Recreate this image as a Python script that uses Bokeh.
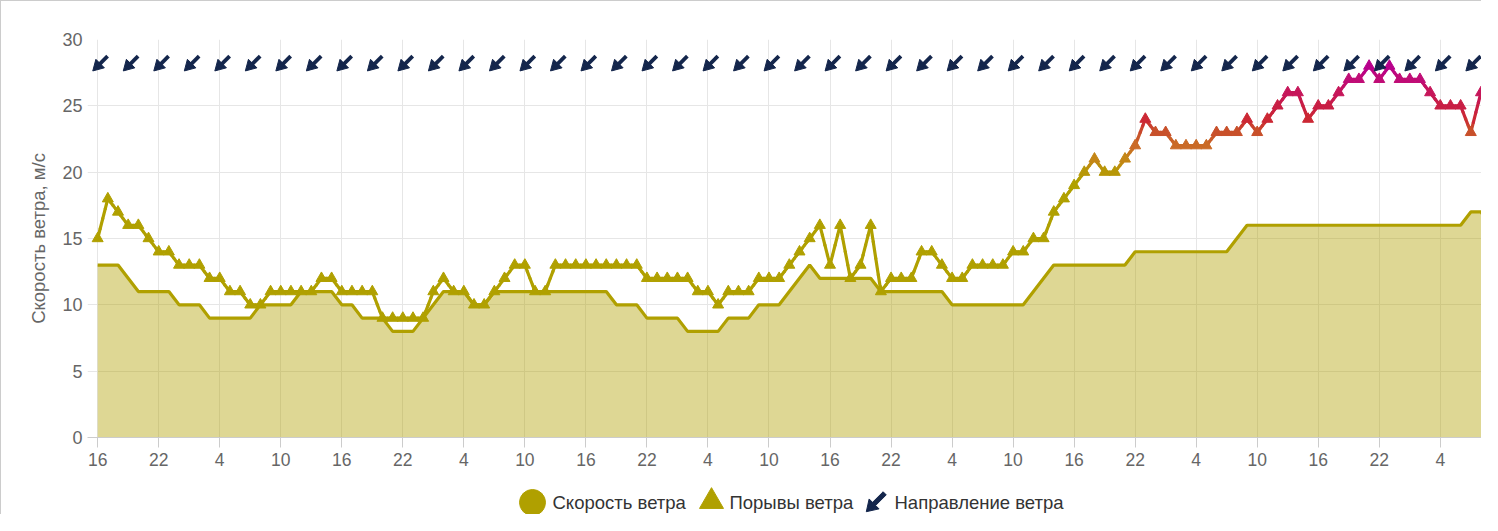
import math
from bokeh.plotting import figure
from bokeh.layouts import column
from bokeh.models import ColumnDataSource, FixedTicker, Range1d
from bokeh.core.properties import value
from bokeh.embed import file_html
from bokeh.resources import INLINE

# ---------------- data (hourly, starting 16:00) ----------------
speed = [13, 13, 13, 12, 11, 11, 11, 11, 10, 10, 10, 9,
         9, 9, 9, 9, 10, 10, 10, 10, 11, 11, 11, 11,
         10, 10, 9, 9, 9, 8, 8, 8, 9, 10, 11, 11,
         11, 10, 10, 11, 11, 11, 11, 11, 11, 11, 11, 11,
         11, 11, 11, 10, 10, 10, 9, 9, 9, 9, 8, 8,
         8, 8, 9, 9, 9, 10, 10, 10, 11, 12, 13, 12,
         12, 12, 12, 12, 12, 11, 11, 11, 11, 11, 11, 11,
         10, 10, 10, 10, 10, 10, 10, 10, 11, 12, 13, 13,
         13, 13, 13, 13, 13, 13, 14, 14, 14, 14, 14, 14,
         14, 14, 14, 14, 15, 16, 16, 16, 16, 16, 16, 16,
         16, 16, 16, 16, 16, 16, 16, 16, 16, 16, 16, 16,
         16, 16, 16, 17, 17, 16]

gust = [15, 18, 17, 16, 16, 15, 14, 14, 13, 13, 13, 12,
        12, 11, 11, 10, 10, 11, 11, 11, 11, 11, 12, 12,
        11, 11, 11, 11, 9, 9, 9, 9, 9, 11, 12, 11,
        11, 10, 10, 11, 12, 13, 13, 11, 11, 13, 13, 13,
        13, 13, 13, 13, 13, 13, 12, 12, 12, 12, 12, 11,
        11, 10, 11, 11, 11, 12, 12, 12, 13, 14, 15, 16,
        13, 16, 12, 13, 16, 11, 12, 12, 12, 14, 14, 13,
        12, 12, 13, 13, 13, 13, 14, 14, 15, 15, 17, 18,
        19, 20, 21, 20, 20, 21, 22, 24, 23, 23, 22, 22,
        22, 22, 23, 23, 23, 24, 23, 24, 25, 26, 26, 24,
        25, 25, 26, 27, 27, 28, 27, 28, 27, 27, 27, 26,
        25, 25, 25, 23, 26, 26]

# wind direction every 3 hours (degrees, direction wind blows FROM)
dir_hours = [0, 3, 6, 9, 12, 15, 18, 21, 24, 27, 30, 33, 36, 39, 42, 45,
             48, 51, 54, 57, 60, 63, 66, 69, 72, 75, 78, 81, 84, 87, 90, 93,
             96, 99, 102, 105, 108, 111, 114, 117, 120, 123, 126, 129, 132, 135]
wind_dir = [45, 45, 45, 45, 45, 45, 45, 45, 45, 45, 45, 45, 45, 45, 45, 45,
            45, 45, 45, 45, 45, 45, 45, 45, 45, 45, 45, 45, 45, 45, 45, 45,
            45, 45, 45, 45, 45, 45, 45, 45, 45, 45, 45, 45, 45, 45]
arrow_level = 28

tick_hours = [0, 6, 12, 18, 24, 30, 36, 42, 48, 54, 60, 66, 72, 78, 84, 90,
              96, 102, 108, 114, 120, 126, 132]
tick_labels = ["16", "22", "4", "10", "16", "22", "4", "10", "16", "22", "4", "10",
               "16", "22", "4", "10", "16", "22", "4", "10", "16", "22", "4"]

labels = {"speed": "Скорость ветра", "gust": "Порывы ветра", "dir": "Направление ветра"}
y_title = "Скорость ветра, м/с"

# ---------------- styles ----------------
OLIVE = "#b0a000"
NAVY = "#14264c"
FONT = "Liberation Sans"
GRID = "#e6e6e6"
BORDER = "1px solid #cccccc"

stops = [(19.5, (176, 160, 0)), (21, (196, 134, 22)), (22, (202, 106, 38)),
         (23, (200, 80, 42)), (24, (204, 40, 52)), (25, (200, 30, 68)),
         (26, (198, 22, 90)), (27, (192, 12, 118)), (28, (184, 0, 140))]


def gust_color(v):
    if v <= stops[0][0]:
        c = stops[0][1]
    elif v >= stops[-1][0]:
        c = stops[-1][1]
    else:
        for (a, ca), (b, cb) in zip(stops[:-1], stops[1:]):
            if a <= v <= b:
                t = (v - a) / (b - a)
                c = tuple(ca[k] + (cb[k] - ca[k]) * t for k in range(3))
                break
    return "#%02x%02x%02x" % tuple(int(round(x)) for x in c)


hours = list(range(len(speed)))

LEFT = 86
W = 1481

p = figure(width=W, height=481, output_backend="svg", toolbar_location=None,
           x_range=Range1d(-1.0, 136.15), y_range=Range1d(0, 30),
           min_border_left=LEFT, min_border_right=0, min_border_top=38,
           min_border_bottom=45)
p.outline_line_color = None
p.background_fill_color = "white"
p.border_fill_color = "white"
p.styles = {"border-top": BORDER, "border-left": BORDER}

# grids
p.xgrid.grid_line_color = GRID
p.ygrid.grid_line_color = GRID
p.xgrid.ticker = FixedTicker(ticks=tick_hours)
p.ygrid.ticker = FixedTicker(ticks=[0, 5, 10, 15, 20, 25, 30])

# axes
p.xaxis.ticker = FixedTicker(ticks=tick_hours)
p.xaxis.major_label_overrides = {h: lab for h, lab in zip(tick_hours, tick_labels)}
p.xaxis.axis_line_color = "#cccccc"
p.xaxis.major_tick_line_color = "#cccccc"
p.xaxis.major_tick_out = 10
p.xaxis.major_tick_in = 0
p.xaxis.minor_tick_line_color = None
p.xaxis.major_label_standoff = 5
p.xaxis.major_label_text_font = FONT
p.xaxis.major_label_text_font_size = "17.5px"
p.xaxis.major_label_text_color = "#666666"

p.yaxis.ticker = FixedTicker(ticks=[0, 5, 10, 15, 20, 25, 30])
p.yaxis.axis_line_color = None
p.yaxis.major_tick_line_color = None
p.yaxis.minor_tick_line_color = None
p.yaxis.major_tick_out = 0
p.yaxis.major_tick_in = 0
p.yaxis.major_label_standoff = 5
p.yaxis.major_label_text_font = FONT
p.yaxis.major_label_text_font_size = "18px"
p.yaxis.major_label_text_color = "#666666"
p.yaxis.axis_label = y_title
p.yaxis.axis_label_text_font = FONT
p.yaxis.axis_label_text_font_size = "18.5px"
p.yaxis.axis_label_text_font_style = "normal"
p.yaxis.axis_label_text_color = "#666666"
p.yaxis.axis_label_standoff = 10

# wind speed area + line
p.varea(x=hours, y1=[0] * len(hours), y2=speed, fill_color=OLIVE, fill_alpha=0.42)
p.line(hours, speed, line_color=OLIVE, line_width=3.2)

# gust line, coloured by value
sub = 4
x0, y0, x1, y1, cols = [], [], [], [], []
for i in range(len(gust) - 1):
    for k in range(sub):
        ta, tb = k / sub, (k + 1) / sub
        ya = gust[i] + (gust[i + 1] - gust[i]) * ta
        yb = gust[i] + (gust[i + 1] - gust[i]) * tb
        x0.append(hours[i] + ta)
        x1.append(hours[i] + tb)
        y0.append(ya)
        y1.append(yb)
        cols.append(gust_color((ya + yb) / 2))
seg_src = ColumnDataSource(dict(x0=x0, y0=y0, x1=x1, y1=y1, c=cols))
p.segment(x0="x0", y0="y0", x1="x1", y1="y1", line_color="c", line_width=3.2,
          line_cap="round", source=seg_src)
g_src = ColumnDataSource(dict(x=hours, y=gust, c=[gust_color(v) for v in gust]))
p.scatter(x="x", y="y", marker="triangle", size=11, fill_color="c",
          line_color="c", source=g_src)

# wind direction arrows: head points where the wind blows to
head_angle = [math.radians(135 + 45 - d) for d in wind_dir]
tail_angle = [math.radians(45 + 45 - d) for d in wind_dir]
a_src = ColumnDataSource(dict(x=dir_hours, y=[arrow_level] * len(dir_hours),
                              ha=head_angle, ta=tail_angle))
p.ray(x="x", y="y", length=14, length_units="screen", angle="ta",
      line_color=NAVY, line_width=3.8, source=a_src)
p.scatter(x="x", y="y", marker="triangle", size=12, angle="ha",
          fill_color=NAVY, line_color=NAVY, source=a_src)

# ---------------- legend strip (pixel coordinates; frame aligned with plot) ----
lg = figure(width=W, height=33, output_backend="svg", toolbar_location=None,
            x_range=Range1d(LEFT, W), y_range=Range1d(0, 33),
            min_border=0, min_border_left=LEFT, min_border_right=0,
            min_border_top=0, min_border_bottom=0)
lg.axis.visible = False
lg.grid.visible = False
lg.outline_line_color = None
lg.background_fill_color = "white"
lg.border_fill_color = "white"
lg.styles = {"border-left": BORDER}

LY = 12
# circle icon
lg.scatter(x=[531], y=[LY], marker="circle", size=26, fill_color=OLIVE,
           line_color=OLIVE)
# triangle icon
lg.scatter(x=[710], y=[LY + 1], marker="triangle", size=24, fill_color=OLIVE,
           line_color=OLIVE)
# arrow icon pointing down-left
ax, ang = 874, math.radians(225)
ux, uy = math.cos(ang), math.sin(ang)
nx, ny = -uy, ux
shape = [(13, 0), (2, 7), (2, 2.2), (-13, 2.2), (-13, -2.2), (2, -2.2), (2, -7)]
lg.patch(x=[ax + a * ux + b * nx for a, b in shape],
         y=[LY + a * uy + b * ny for a, b in shape], fill_color=NAVY, line_color=NAVY)
lg.text(x=[551, 728, 893], y=[LY, LY, LY],
        text=[labels["speed"], labels["gust"], labels["dir"]],
        text_font=value(FONT), text_font_size="18.5px", text_color="#333333",
        text_baseline="middle", text_align="left")

layout = column(p, lg, spacing=0)
open("out.html", "w").write(file_html(layout, INLINE))
